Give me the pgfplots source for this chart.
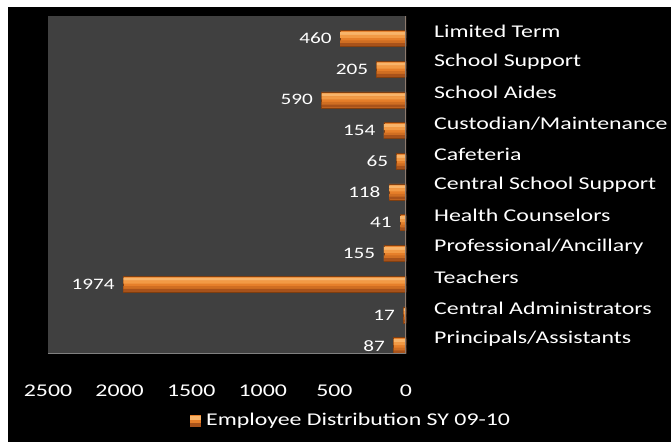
\documentclass[border=0pt]{standalone}
\usepackage{pgfplots}
\pgfplotsset{compat=1.18}
\usepackage{fontspec}
\setmainfont{Carlito}[FakeStretch=1.33]
\definecolor{plotbg}{HTML}{404040}
\definecolor{barhi}{HTML}{F8B46A}
\definecolor{barlt}{HTML}{F29A45}
\definecolor{barmid}{HTML}{E67F2A}
\definecolor{barmd2}{HTML}{D06E22}
\definecolor{barbot}{HTML}{A8521A}
\definecolor{baredge}{HTML}{7E3E10}
\definecolor{raxis}{HTML}{8C7A6E}
\definecolor{baxis}{HTML}{808080}
\pgfplotstableread{
idx val
0 460
1 205
2 590
3 154
4 65
5 118
6 41
7 155
8 1974
9 17
10 87
}\datatable
\begin{document}
\begin{tikzpicture}[x=1bp,y=1bp]
\fill[white] (0,0) rectangle (671,442);
\fill[black] (8,0) rectangle (671,435);
\begin{axis}[
  at={(48bp,88bp)}, anchor=south west,
  width=358bp, height=338bp, scale only axis,
  xbar, x dir=reverse, y dir=reverse,
  xmin=0, xmax=2500, ymin=-0.5, ymax=10.5,
  axis background/.style={fill=plotbg},
  axis line style={draw=none},
  major tick length=0pt,
  xtick={0,500,1000,1500,2000,2500},
  ytick={0,...,10},
  yticklabels={Limited Term,School Support,School Aides,Custodian/Maintenance,Cafeteria,Central School Support,Health Counselors,Professional/Ancillary,Teachers,Central Administrators,Principals/Assistants},
  yticklabel pos=right,
  yticklabel style={anchor=west, inner sep=0pt, xshift=28bp, text=white, font=\fontsize{18}{20}\selectfont},
  xticklabel style={anchor=north, inner sep=0pt, yshift=-31bp, text=white, font=\fontsize{18}{20}\selectfont},
  /pgf/number format/assume math mode=true,
  /pgf/number format/1000 sep={},
  scaled x ticks=false,
  legend style={at={(0.846,-0.195)}, anchor=center, draw=none, fill=none, text=white, font=\fontsize{18}{20}\selectfont, inner sep=0pt},
  legend image code/.code={\fill[barmid] (0bp,-6bp) rectangle (10bp,5bp);
     \fill[barhi] (0bp,1bp) rectangle (10bp,4bp);
     \fill[barbot] (0bp,-6bp) rectangle (10bp,-3bp);
     \path (14bp,0bp);},
]
\addplot[bar width=16bp, bar shift=-7bp, draw=baredge, line width=0.6bp, fill=barmid,
  nodes near coords,
  nodes near coords style={anchor=east, xshift=-5bp, text=white, font=\fontsize{16}{18}\selectfont},
  point meta=explicit symbolic]
  table[x=val, y=idx, meta=val] {\datatable};
\addlegendentry{Employee Distribution SY 09-10}
\addplot[forget plot, bar width=3bp, bar shift=-2bp, draw=none, fill=barhi] table[x=val, y=idx] {\datatable};
\addplot[forget plot, bar width=3bp, bar shift=-5bp, draw=none, fill=barlt] table[x=val, y=idx] {\datatable};
\addplot[forget plot, bar width=3bp, bar shift=-10.5bp, draw=none, fill=barmd2] table[x=val, y=idx] {\datatable};
\addplot[forget plot, bar width=3bp, bar shift=-13.2bp, draw=none, fill=barbot] table[x=val, y=idx] {\datatable};
\draw[baxis, line width=1.5bp] (rel axis cs:0,0) -- (rel axis cs:1,0);
\draw[raxis, line width=2bp] (axis cs:0,-0.5) -- (axis cs:0,10.5);
\end{axis}
\end{tikzpicture}
\end{document}
